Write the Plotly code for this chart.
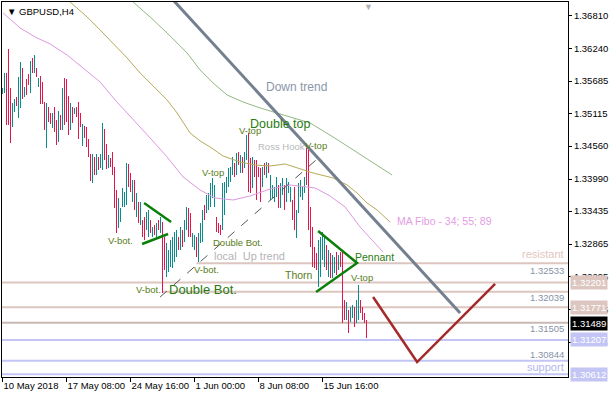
import plotly.graph_objects as go

# ---------------- data ----------------
TICK_POS = [0, 32, 64, 96, 128, 160]
TICK_LABELS = ["10 May 2018", "17 May 08:00", "24 May 16:00", "1 Jun 00:00", "8 Jun 08:00", "15 Jun 16:00"]

PRICE_TICKS = [1.36810, 1.36240, 1.35685, 1.35115, 1.34560, 1.33990, 1.33435, 1.32865, 1.32295, 1.31725, 1.31155]

HIGHS = [1.3556, 1.3582, 1.3582, 1.3624, 1.3556, 1.3530, 1.3537, 1.3541, 1.3576, 1.3601,
         1.3591, 1.3558, 1.3572, 1.3581, 1.3603, 1.3608, 1.3614, 1.3591, 1.3574, 1.3577,
         1.3567, 1.3532, 1.3530, 1.3524, 1.3513, 1.3513, 1.3524, 1.3501, 1.3517, 1.3510,
         1.3556, 1.3574, 1.3572, 1.3543, 1.3530, 1.3524, 1.3522, 1.3524, 1.3532, 1.3513,
         1.3494, 1.3491, 1.3489, 1.3468, 1.3442, 1.3442, 1.3437, 1.3442, 1.3437, 1.3442,
         1.3496, 1.3486, 1.3460, 1.3441, 1.3435, 1.3446, 1.3420, 1.3380, 1.3366, 1.3349,
         1.3384, 1.3377, 1.3427, 1.3425, 1.3409, 1.3397, 1.3397, 1.3375, 1.3359, 1.3359,
         1.3328, 1.3333, 1.3342, 1.3345, 1.3328, 1.3316, 1.3319, 1.3323, 1.3328, 1.3333,
         1.3325, 1.3299, 1.3288, 1.3276, 1.3294, 1.3299, 1.3307, 1.3311, 1.3299, 1.3316,
         1.3311, 1.3328, 1.3351, 1.3349, 1.3340, 1.3306, 1.3302, 1.3299, 1.3306, 1.3323,
         1.3345, 1.3354, 1.3371, 1.3375, 1.3392, 1.3401, 1.3389, 1.3333, 1.3323, 1.3319,
         1.3392, 1.3394, 1.3403, 1.3418, 1.3420, 1.3437, 1.3427, 1.3444, 1.3446, 1.3441,
         1.3437, 1.3446, 1.3475, 1.3479, 1.3435, 1.3437, 1.3432, 1.3432, 1.3420, 1.3418,
         1.3420, 1.3427, 1.3428, 1.3427, 1.3406, 1.3389, 1.3385, 1.3403, 1.3389, 1.3392,
         1.3401, 1.3389, 1.3401, 1.3394, 1.3385, 1.3363, 1.3385, 1.3345, 1.3392, 1.3397,
         1.3385, 1.3403, 1.3453, 1.3449, 1.3351, 1.3316, 1.3281, 1.3271, 1.3294, 1.3299,
         1.3307, 1.3302, 1.3285, 1.3276, 1.3271, 1.3268, 1.3264, 1.3273, 1.3268, 1.3273,
         1.3273, 1.3190, 1.3186, 1.3172, 1.3178, 1.3181, 1.3178, 1.3190, 1.3216, 1.3190,
         1.3178, 1.3167, 1.3155]

LOWS = [1.3546, 1.3548, 1.3492, 1.3492, 1.3461, 1.3489, 1.3515, 1.3525, 1.3505, 1.3522,
        1.3537, 1.3541, 1.3544, 1.3562, 1.3548, 1.3582, 1.3582, 1.3576, 1.3558, 1.3529,
        1.3529, 1.3484, 1.3453, 1.3498, 1.3494, 1.3487, 1.3480, 1.3458, 1.3463, 1.3484,
        1.3484, 1.3492, 1.3498, 1.3475, 1.3484, 1.3496, 1.3512, 1.3506, 1.3468, 1.3489,
        1.3456, 1.3470, 1.3454, 1.3437, 1.3396, 1.3392, 1.3406, 1.3406, 1.3415, 1.3418,
        1.3415, 1.3432, 1.3416, 1.3418, 1.3420, 1.3406, 1.3349, 1.3306, 1.3314, 1.3325,
        1.3351, 1.3351, 1.3354, 1.3385, 1.3377, 1.3359, 1.3345, 1.3333, 1.3323, 1.3319,
        1.3299, 1.3294, 1.3311, 1.3299, 1.3306, 1.3299, 1.3302, 1.3299, 1.3311, 1.3306,
        1.3202, 1.3242, 1.3230, 1.3238, 1.3247, 1.3245, 1.3255, 1.3264, 1.3276, 1.3276,
        1.3281, 1.3290, 1.3311, 1.3299, 1.3299, 1.3281, 1.3276, 1.3264, 1.3255, 1.3288,
        1.3290, 1.3328, 1.3340, 1.3345, 1.3351, 1.3366, 1.3351, 1.3307, 1.3306, 1.3302,
        1.3311, 1.3337, 1.3375, 1.3385, 1.3394, 1.3406, 1.3403, 1.3406, 1.3423, 1.3409,
        1.3409, 1.3418, 1.3432, 1.3377, 1.3375, 1.3384, 1.3403, 1.3363, 1.3403, 1.3359,
        1.3385, 1.3406, 1.3401, 1.3409, 1.3363, 1.3366, 1.3359, 1.3368, 1.3349, 1.3349,
        1.3371, 1.3345, 1.3359, 1.3375, 1.3359, 1.3328, 1.3311, 1.3297, 1.3340, 1.3368,
        1.3363, 1.3375, 1.3389, 1.3311, 1.3281, 1.3247, 1.3245, 1.3242, 1.3212, 1.3230,
        1.3259, 1.3247, 1.3242, 1.3230, 1.3228, 1.3228, 1.3236, 1.3233, 1.3242, 1.3247,
        1.3150, 1.3155, 1.3155, 1.3133, 1.3152, 1.3159, 1.3143, 1.3150, 1.3155, 1.3167,
        1.3155, 1.3150, 1.3124]

DIRS = ("uuddduuduu" "duddududud" "ddudduddud" "udddududdd" "uddddududu"
        "uddudddduu" "uuuddududu" "dduudududu" "dduuuuuudu" "duudduuduu"
        "uduuuuuddd" "uuuuuududu" "duuddudddd" "ududuuuudu" "uduuudduuu"
        "uudddddduu" "uududuudud" "dduduuduud" "ddd")

LAST_PRICE = 1.31489

# moving averages (MA Fibo 34 / 55 / 89), sampled along the drawn curves: (bar, price)
MA34_X = [0.3, 8.8, 16.3, 23.8, 32.3, 41.3, 48.8, 56.3, 65.3, 73.8, 82.3, 90.3, 98.8, 106.3,
          115.3, 123.8, 133.8, 143.8, 156.3, 163.8, 171.3, 178.8, 183.8, 190.3]
MA34_Y = [1.36862, 1.36603, 1.36447, 1.36326, 1.36135, 1.35876, 1.35668, 1.35357, 1.35028,
          1.34700, 1.34371, 1.34025, 1.33800, 1.33662, 1.33627, 1.33696, 1.33817, 1.33887,
          1.33835, 1.33696, 1.33506, 1.33160, 1.32970, 1.32727]
MA55_X = [33.8, 42.3, 48.8, 57.3, 62.3, 68.8, 77.3, 82.3, 87.3, 93.8, 98.8, 103.8, 110.3,
          118.8, 126.3, 133.8, 141.3, 148.8, 155.3, 165.3, 172.3, 177.3, 182.3, 187.3, 193.8]
MA55_Y = [1.37052, 1.36793, 1.36568, 1.36274, 1.36084, 1.35824, 1.35530, 1.35357, 1.35132,
          1.34786, 1.34648, 1.34544, 1.34388, 1.34284, 1.34232, 1.34215, 1.34250, 1.34163,
          1.34094, 1.34008, 1.33887, 1.33748, 1.33575, 1.33454, 1.33246]
MA89_X = [65.3, 73.8, 82.3, 92.3, 98.8, 105.3, 112.3, 120.3, 128.8, 140.3, 153.8, 165.3,
          175.3, 185.3, 194.8]
MA89_Y = [1.37052, 1.36793, 1.36516, 1.36170, 1.35876, 1.35651, 1.35443, 1.35322, 1.35219,
          1.35097, 1.34959, 1.34717, 1.34492, 1.34267, 1.34059]

# drawn objects: (bar, price) endpoints
DOWN_TREND_X = [85.3, 228.8]
DOWN_TREND_Y = [1.37087, 1.31672]
UP_TREND_X = [78.8, 156.8]
UP_TREND_Y = [1.31949, 1.34319]
PENNANT1_UP_X = [70.8, 84.3]
PENNANT1_UP_Y = [1.33575, 1.33246]
PENNANT1_LO_X = [69.8, 82.8]
PENNANT1_LO_Y = [1.32866, 1.33039]
PENNANT2_X = [157.8, 177.3, 156.8]
PENNANT2_Y = [1.33091, 1.32537, 1.32035]
FORECAST_X = [185.3, 207.3, 246.3]
FORECAST_Y = [1.31949, 1.30824, 1.32174]

RES_LEVELS = [1.32533, 1.32201, 1.32039, 1.31771, 1.31505]
RES_START = [97, None, 80, None, None]
SUP_LEVELS = [1.31207, 1.30844, 1.30612]

# ---------------- figure ----------------
X0, X1 = -0.25, 282.75
Y0, Y1 = 1.30565, 1.37052

UP_C = "#0a8c8c"
DN_C = "#e3154b"
FONT = "Liberation Sans"

idx = list(range(len(HIGHS)))
colors = [UP_C if (DIRS[i] if i < len(DIRS) else "d") == "u" else DN_C for i in idx]

fig = go.Figure()

# MAs
fig.add_trace(go.Scatter(x=MA89_X, y=MA89_Y, mode="lines", line=dict(color="#93b883", width=1), hoverinfo="skip"))
fig.add_trace(go.Scatter(x=MA55_X, y=MA55_Y, mode="lines", line=dict(color="#b7aa58", width=1), hoverinfo="skip"))
fig.add_trace(go.Scatter(x=MA34_X, y=MA34_Y, mode="lines", line=dict(color="#dd98e0", width=1), hoverinfo="skip"))

# horizontal levels
shapes = []
for lvl, st in zip(RES_LEVELS, RES_START):
    col = "#c9b9b4" if lvl == 1.31505 else "#dcc6bf"
    if st is None:
        shapes.append(dict(type="line", xref="paper", yref="y", x0=0, x1=1, y0=lvl, y1=lvl,
                           line=dict(color=col, width=2), layer="below"))
    else:
        shapes.append(dict(type="line", xref="x", yref="y", x0=st, x1=X1, y0=lvl, y1=lvl,
                           line=dict(color=col, width=2), layer="below"))
for lvl in SUP_LEVELS:
    shapes.append(dict(type="line", xref="paper", yref="y", x0=0, x1=1, y0=lvl, y1=lvl,
                       line=dict(color="#c3c6f5", width=2), layer="below"))

# price bars
fig.add_trace(go.Bar(x=idx, y=[h - l for h, l in zip(HIGHS, LOWS)], base=LOWS, width=0.5,
                     marker=dict(color=colors, line=dict(width=0)), hoverinfo="skip"))

# trend lines and patterns
fig.add_trace(go.Scatter(x=UP_TREND_X, y=UP_TREND_Y, mode="lines",
                         line=dict(color="#555555", width=1, dash="dash"), hoverinfo="skip"))
fig.add_trace(go.Scatter(x=DOWN_TREND_X, y=DOWN_TREND_Y, mode="lines",
                         line=dict(color="#74808f", width=3), hoverinfo="skip"))
fig.add_trace(go.Scatter(x=PENNANT1_UP_X, y=PENNANT1_UP_Y, mode="lines",
                         line=dict(color="#0a800a", width=2.5), hoverinfo="skip"))
fig.add_trace(go.Scatter(x=PENNANT1_LO_X, y=PENNANT1_LO_Y, mode="lines",
                         line=dict(color="#0a800a", width=2.5), hoverinfo="skip"))
fig.add_trace(go.Scatter(x=PENNANT2_X, y=PENNANT2_Y, mode="lines",
                         line=dict(color="#0a800a", width=2.5), hoverinfo="skip"))
fig.add_trace(go.Scatter(x=FORECAST_X, y=FORECAST_Y, mode="lines",
                         line=dict(color="#a52a2a", width=2.5), hoverinfo="skip"))

ann = []
def txt(x, y, s, color, size, xanchor="center"):
    ann.append(dict(x=x, y=y, xref="x", yref="y", text=s, showarrow=False, xanchor=xanchor,
                    yanchor="middle", font=dict(family=FONT, size=size, color=color)))

OLV = "#587d18"
GRN = "#2a7a12"
txt(146.8, 1.35582, "Down trend", "#8a96aa", 12)
txt(138.8, 1.34942, "Double top", GRN, 12.5)
txt(123.8, 1.34821, "V-top", OLV, 9.5)
txt(105.3, 1.34111, "V-top", OLV, 9.5)
txt(156.8, 1.34578, "V-top", OLV, 9.5)
txt(179.8, 1.32278, "V-top", OLV, 9.5)
txt(58.8, 1.32918, "V-bot.", OLV, 9.5)
txt(72.8, 1.32087, "V-bot.", OLV, 9.5)
txt(101.8, 1.32433, "V-bot.", OLV, 9.5)
txt(100.3, 1.32087, "Double Bot.", GRN, 13)
txt(117.8, 1.32884, "Double Bot.", OLV, 9.5)
txt(123.3, 1.32658, "local  Up trend", "#b4b4b4", 11)
txt(139.3, 1.34544, "Ross Hook", "#b8b8b8", 9.5)
txt(148.3, 1.32329, "Thorn", OLV, 10.5)
txt(185.8, 1.32641, "Pennant", GRN, 10.5)
txt(220.8, 1.33264, "MA Fibo - 34; 55; 89", "#e49de4", 10.5)

def rtxt(y, s, color, size, yshift):
    ann.append(dict(x=1, y=y, xref="paper", yref="y", text=s, showarrow=False, xanchor="right",
                    yanchor="middle", xshift=-2, yshift=yshift,
                    font=dict(family=FONT, size=size, color=color)))

rtxt(RES_LEVELS[0], "resistant", "#e2c6c0", 11, 9)
rtxt(RES_LEVELS[0], "1.32533", "#8792a8", 9.5, -7)
rtxt(RES_LEVELS[2], "1.32039", "#8792a8", 9.5, -6)
rtxt(RES_LEVELS[4], "1.31505", "#8792a8", 9.5, -6)
rtxt(SUP_LEVELS[1], "1.30844", "#8792a8", 9.5, 6)
rtxt(SUP_LEVELS[2], "support", "#b4b6f0", 11, 7)

def box(y, s, bg):
    ann.append(dict(x=1, y=y, xref="paper", yref="y", text=s, showarrow=False, xanchor="left",
                    yanchor="middle", xshift=2, bgcolor=bg, borderpad=1,
                    font=dict(family=FONT, size=9.5, color="white")))

box(RES_LEVELS[1], "1.32201", "#dcc6bf")
box(RES_LEVELS[3], "1.31771", "#dcc6bf")
box(LAST_PRICE, "%.5f" % LAST_PRICE, "#000000")
box(SUP_LEVELS[0], "1.31207", "#c3c6f5")
box(SUP_LEVELS[2], "1.30612", "#c3c6f5")

ann.append(dict(x=0, y=1, xref="paper", yref="paper", text="▼ GBPUSD,H4", showarrow=False,
                xanchor="left", yanchor="top", xshift=3, yshift=-2,
                font=dict(family=FONT, size=9.5, color="black")))
ann.append(dict(x=0.647, y=1, xref="paper", yref="paper", text="▼", showarrow=False,
                xanchor="center", yanchor="top", yshift=2,
                font=dict(family=FONT, size=9, color="#b0b0b0")))

fig.update_layout(
    width=610, height=400,
    margin=dict(l=2, r=42, t=2, b=23, autoexpand=False),
    paper_bgcolor="white", plot_bgcolor="white",
    showlegend=False, bargap=0,
    shapes=shapes, annotations=ann,
    font=dict(family=FONT, size=10, color="black"),
    xaxis=dict(range=[X0, X1], showgrid=False, zeroline=False, showline=True, linecolor="black",
               linewidth=1, mirror=True, tickmode="array", tickvals=TICK_POS, ticktext=TICK_LABELS,
               ticks="outside", ticklen=4, tickcolor="black", ticklabelposition="outside right",
               tickangle=0, automargin=False,
               tickfont=dict(family=FONT, size=9.5, color="black"), fixedrange=True),
    yaxis=dict(range=[Y0, Y1], side="right", showgrid=False, zeroline=False, showline=True,
               linecolor="black", linewidth=1, mirror=True, tickmode="array", tickvals=PRICE_TICKS,
               ticktext=["%.5f" % v for v in PRICE_TICKS], ticks="outside", ticklen=3, automargin=False,
               tickcolor="black", tickfont=dict(family=FONT, size=9.5, color="black"), fixedrange=True),
)

fig.write_html("out.html", config={"displayModeBar": False},
               post_script="document.body.style.margin='0';document.body.style.overflow='hidden';")
